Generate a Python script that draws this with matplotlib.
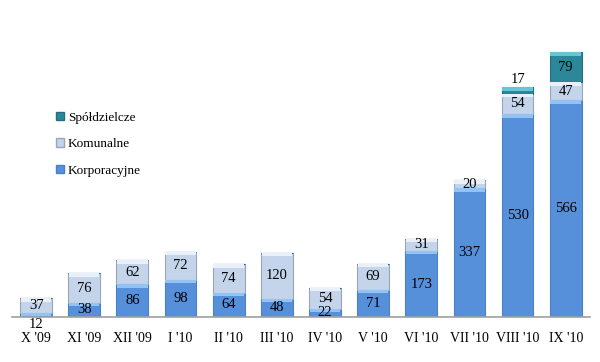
import matplotlib
matplotlib.use("Agg")
import matplotlib.pyplot as plt
from matplotlib.patches import Patch
import numpy as np

categories = ["X '09", "XI '09", "XII '09", "I '10", "II '10", "III '10",
              "IV '10", "V '10", "VI '10", "VII '10", "VIII '10", "IX '10"]
korporacyjne = [12, 38, 86, 98, 64, 48, 22, 71, 173, 337, 530, 566]
komunalne = [37, 76, 62, 72, 74, 120, 54, 69, 31, 20, 54, 47]
spoldzielcze = [0, 0, 0, 0, 0, 0, 0, 0, 0, 0, 17, 79]

plt.rcParams['font.family'] = ['Liberation Serif', 'DejaVu Serif']

fig = plt.figure(figsize=(6.0, 3.62), dpi=100)
ax = fig.add_axes([0.02, 0.124, 0.963, 0.793])

x = np.arange(len(categories))
w = 0.66
series = [
    ("Korporacyjne", korporacyjne, "#5790DA", "#93C3F2", "#4C7FC4"),
    ("Komunalne", komunalne, "#C4D4EA", "#EAF0F9", "#98A6B8"),
    ("Spółdzielcze", spoldzielcze, "#2C8799", "#66C6D6", "#23707F"),
]
bottom = np.zeros(len(categories))
hl = 9.0
for name, vals, c, hc, ec in series:
    v = np.array(vals, dtype=float)
    ax.bar(x, v, w, bottom=bottom, color=c, edgecolor=ec, linewidth=0.8, zorder=2)
    hv = np.minimum(v, hl) * (v > 0)
    ax.bar(x, hv, w * 0.96, bottom=bottom + v - hv, color=hc, linewidth=0, zorder=3)
    for i in range(len(v)):
        if v[i] <= 0:
            continue
        if name == "Korporacyjne" and v[i] < 15:
            ax.text(x[i], -2, f"{int(v[i])}", ha='center', va='top', fontsize=10.5, zorder=5)
        elif v[i] < 18:
            ax.text(x[i], bottom[i] + v[i] + 2, f"{int(v[i])}", ha='center', va='bottom', fontsize=10.5, zorder=5)
        else:
            ax.text(x[i], bottom[i] + v[i] / 2, f"{int(v[i])}", ha='center', va='center', fontsize=10.5, zorder=5)
    bottom = bottom + v

ax.set_xlim(-0.5, 11.5)
ax.set_ylim(0, 750)
ax.set_xticks(x)
ax.set_xticklabels(categories, fontsize=10)
ax.tick_params(axis='x', length=0, pad=11)
ax.set_yticks([])
for s in ['top', 'right', 'left']:
    ax.spines[s].set_visible(False)
ax.spines['bottom'].set_color('#A0A0A0')
ax.spines['bottom'].set_linewidth(1.2)

handles = [Patch(facecolor="#2C8799", edgecolor="#23707F", label="Spółdzielcze"),
           Patch(facecolor="#C4D4EA", edgecolor="#98A6B8", label="Komunalne"),
           Patch(facecolor="#5790DA", edgecolor="#4C7FC4", label="Korporacyjne")]
fig.legend(handles=handles, loc='upper left', bbox_to_anchor=(0.082, 0.71),
           frameon=False, fontsize=9.5, handlelength=0.6, handleheight=0.6,
           handletextpad=0.3, labelspacing=1.1, borderpad=0)

fig.savefig("out.png", dpi=100)
